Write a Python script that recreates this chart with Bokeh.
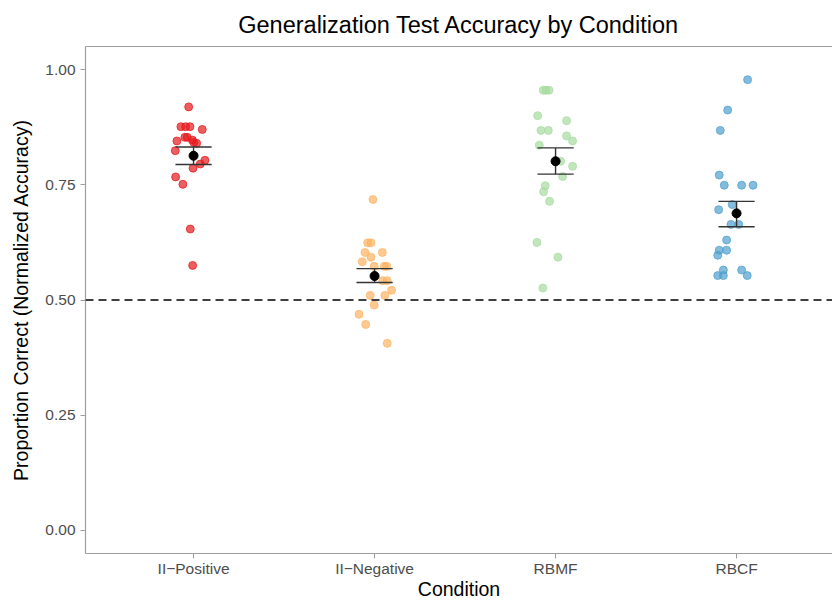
from bokeh.plotting import figure
from bokeh.models import FixedTicker, LinearAxis, Span, Range1d, ColumnDataSource
from bokeh.embed import file_html
from bokeh.resources import INLINE

# ---------------- data ----------------
conditions = ["II\u2212Positive", "II\u2212Negative", "RBMF", "RBCF"]
colors = ["#E41A1C", "#FDB462", "#A6DBA0", "#4F9FCF"]

ii_pos = [0.919, 0.876, 0.876, 0.876, 0.870, 0.853, 0.853, 0.847, 0.845, 0.842,
          0.840, 0.824, 0.803, 0.795, 0.786, 0.767, 0.751, 0.654, 0.575]
ii_pos_jit = [-0.027, -0.070, -0.044, -0.020, 0.048, -0.035, -0.048, -0.007, -0.092, 0.001,
              0.017, -0.101, 0.063, 0.037, -0.003, -0.099, -0.059, -0.018, -0.005]

ii_neg = [0.718, 0.624, 0.624, 0.603, 0.603, 0.593, 0.583, 0.573, 0.573, 0.573,
          0.542, 0.542, 0.521, 0.510, 0.510, 0.489, 0.469, 0.447, 0.406]
ii_neg_jit = [-0.009, -0.038, -0.020, -0.053, 0.043, -0.020, -0.068, -0.002, 0.054, 0.067,
              0.045, 0.070, 0.094, -0.024, 0.057, -0.002, -0.086, -0.049, 0.070]

rbmf = [0.955, 0.955, 0.955, 0.900, 0.889, 0.868, 0.868, 0.856, 0.845, 0.836,
        0.801, 0.790, 0.768, 0.748, 0.735, 0.714, 0.625, 0.593, 0.526]
rbmf_jit = [-0.068, -0.053, -0.036, -0.099, 0.061, -0.081, -0.040, 0.061, 0.094, -0.090,
            0.028, 0.094, 0.039, -0.057, -0.066, -0.033, -0.103, 0.013, -0.070]

rbcf = [0.978, 0.912, 0.868, 0.771, 0.749, 0.749, 0.749, 0.707, 0.696, 0.664,
        0.664, 0.630, 0.608, 0.608, 0.597, 0.565, 0.565, 0.553, 0.553, 0.553]
rbcf_jit = [0.061, -0.049, -0.090, -0.096, -0.068, 0.028, 0.091, -0.024, -0.099, -0.031,
            0.012, -0.055, -0.096, -0.055, -0.104, -0.073, 0.028, -0.104, -0.073, 0.059]

means = [0.813, 0.552, 0.801, 0.688]
se_lo = [0.794, 0.538, 0.773, 0.659]
se_hi = [0.832, 0.568, 0.830, 0.714]

chance = 0.5
y_ticks = [0.0, 0.25, 0.5, 0.75, 1.0]
y_tick_labels = ["0.00", "0.25", "0.50", "0.75", "1.00"]

groups = [(ii_pos, ii_pos_jit), (ii_neg, ii_neg_jit), (rbmf, rbmf_jit), (rbcf, rbcf_jit)]

FONT = "Liberation Sans"
GRAY = "#9E9E9E"

p = figure(width=832, height=602, output_backend="svg", toolbar_location=None,
           x_range=Range1d(0.403, 4.53), y_range=Range1d(-0.05, 1.05),
           title="Generalization Test Accuracy by Condition",
           min_border_left=85, min_border_right=0, min_border_bottom=43, min_border_top=45)

p.title.text_font = FONT
p.title.text_font_size = "23.5px"
p.title.text_font_style = "normal"
p.title.align = "center"
p.title.text_color = "black"
p.title.standoff = 18

p.outline_line_color = None
p.xgrid.visible = False
p.ygrid.visible = False
p.background_fill_color = "white"

xax = p.below[0]
yax = p.left[0]
xax.ticker = FixedTicker(ticks=[1, 2, 3, 4])
xax.major_label_overrides = {i + 1: c for i, c in enumerate(conditions)}
yax.ticker = FixedTicker(ticks=y_ticks)
yax.major_label_overrides = {t: l for t, l in zip(y_ticks, y_tick_labels)}
for ax in [xax, yax]:
    ax.axis_line_color = GRAY
    ax.axis_line_width = 1.2
    ax.major_tick_line_color = GRAY
    ax.major_tick_out = 5
    ax.major_tick_in = 0
    ax.minor_tick_line_color = None
    ax.major_label_text_font = FONT
    ax.major_label_text_font_size = "15.5px"
    ax.major_label_text_color = "#4D4D4D"
    ax.axis_label_text_font = FONT
    ax.axis_label_text_font_size = "19.5px"
    ax.axis_label_text_font_style = "normal"
    ax.axis_label_text_color = "black"
xax.axis_label = "Condition"
yax.axis_label = "Proportion Correct (Normalized Accuracy)"
xax.major_label_standoff = 1
xax.axis_label_standoff = -2
yax.major_label_standoff = 5
yax.axis_label_standoff = 10

# top border as an empty axis
top = LinearAxis(ticker=FixedTicker(ticks=[]), axis_line_color=GRAY, axis_line_width=1.2,
                 major_tick_out=0, major_tick_in=0, minor_tick_out=0, minor_tick_in=0,
                 major_label_text_font_size="0px", major_label_standoff=0,
                 axis_label=None)
p.add_layout(top, "above")

# chance line
p.add_layout(Span(location=chance, dimension="width", line_color="black",
                  line_dash="8 5", line_width=1.5))

# jittered points
for i, ((vals, jit), col) in enumerate(zip(groups, colors)):
    src = ColumnDataSource(dict(x=[i + 1 + j for j in jit], y=vals))
    p.scatter("x", "y", source=src, size=8, fill_color=col, fill_alpha=0.7,
              line_color=col, line_alpha=0.7, line_width=1)

# error bars
xs = [1, 2, 3, 4]
cap = 0.1
p.segment(x0=xs, y0=se_lo, x1=xs, y1=se_hi, line_color="#333333", line_width=1.4)
p.segment(x0=[x - cap for x in xs], y0=se_hi, x1=[x + cap for x in xs], y1=se_hi,
          line_color="#333333", line_width=1.4)
p.segment(x0=[x - cap for x in xs], y0=se_lo, x1=[x + cap for x in xs], y1=se_lo,
          line_color="#333333", line_width=1.4)
p.scatter(x=xs, y=means, size=9, fill_color="black", line_color="black")

open("out.html", "w").write(file_html(p, INLINE))
